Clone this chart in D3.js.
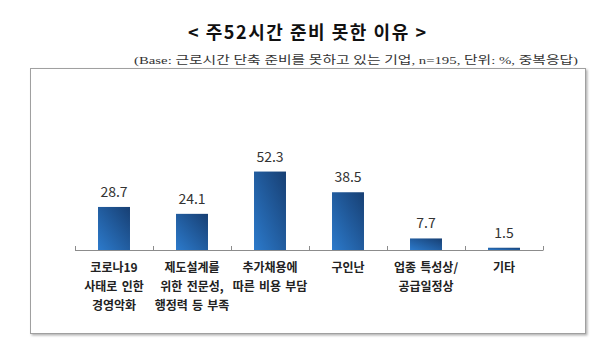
<!DOCTYPE html>
<head>
  <meta charset="utf-8">
  <style>
    body { margin: 0; background: #fff; }
    svg { display: block; }
  </style>
  <script src="https://cdn.jsdelivr.net/npm/d3@7"></script>
</head>
<body>
<svg id=chart width="616" height="354"></svg>
<script>
// data
const categories = [
  ['코로나19', '사태로 인한', '경영악화'],
  ['제도설계를', '위한 전문성,', '행정력 등 부족'],
  ['추가채용에', '따른 비용 부담'],
  ['구인난'],
  ['업종 특성상/', '공급일정상'],
  ['기타']
]
const values = [28.7, 24.1, 52.3, 38.5, 7.7, 1.5]
const title = '< 주52시간 준비 못한 이유 >'
const subtitle = '(Base: 근로시간 단축 준비를 못하고 있는 기업, n=195, 단위: %, 중복응답)'

const svg = d3.select('#chart')
const sans = "'Noto Sans CJK KR', 'Noto Sans', sans-serif"

const defs = svg.append('defs')
const grad = defs.append('linearGradient').attr('id', 'bar')
  .attr('x1', 0).attr('y1', 1).attr('x2', 1).attr('y2', 0)
grad.append('stop').attr('offset', '0%').attr('stop-color', '#2c7acb')
grad.append('stop').attr('offset', '100%').attr('stop-color', '#173f73')
const shadow = defs.append('filter').attr('id', 'shadow')
  .attr('x', '-5%').attr('y', '-5%').attr('width', '110%').attr('height', '110%')
shadow.append('feDropShadow').attr('dx', 1.5).attr('dy', 1.5).attr('stdDeviation', 1)
  .attr('flood-color', '#000').attr('flood-opacity', 0.3)

// title
svg.append('text')
  .attr('x', 307).attr('y', 39)
  .attr('text-anchor', 'middle')
  .attr('font-family', sans).attr('font-weight', 'bold').attr('font-size', 18)
  .attr('fill', '#111')
  .attr('textLength', 238).attr('lengthAdjust', 'spacing')
  .text(title)

svg.append('text')
  .attr('x', 578).attr('y', 64)
  .attr('text-anchor', 'end')
  .attr('font-family', "'Liberation Serif', 'Noto Sans CJK KR', serif")
  .attr('font-size', 11)
  .attr('fill', '#333')
  .attr('textLength', 444).attr('lengthAdjust', 'spacingAndGlyphs')
  .text(subtitle)

// frame
svg.append('rect')
  .attr('x', 30.5).attr('y', 68.5).attr('width', 555).attr('height', 265)
  .attr('fill', '#fff').attr('stroke', '#a0a0a0').attr('stroke-width', 1)
  .attr('filter', 'url(#shadow)')

// scales
const x = d3.scaleBand().domain(d3.range(values.length)).range([75, 543]).paddingInner(0.59).paddingOuter(0.295)
const y = d3.scaleLinear().domain([0, 60]).range([250, 160])

// bars
svg.append('g').selectAll('rect')
  .data(values)
  .join('rect')
  .attr('x', (d, i) => x(i))
  .attr('y', d => y(d))
  .attr('width', x.bandwidth())
  .attr('height', d => y(0) - y(d))
  .attr('fill', 'url(#bar)')

// axis
const axisG = svg.append('g')
axisG.append('line')
  .attr('x1', 75).attr('x2', 543).attr('y1', y(0) + 0.5).attr('y2', y(0) + 0.5)
  .attr('stroke', '#8c8c8c')
const step = (543 - 75) / values.length
axisG.selectAll('line.tick')
  .data(d3.range(values.length + 1))
  .join('line')
  .attr('class', 'tick')
  .attr('x1', i => 75.5 + i * step).attr('x2', i => 75.5 + i * step)
  .attr('y1', y(0) - 4).attr('y2', y(0) + 0.5)
  .attr('stroke', '#8c8c8c')

// value labels
svg.append('g').selectAll('text')
  .data(values)
  .join('text')
  .attr('x', (d, i) => x(i) + x.bandwidth() / 2)
  .attr('y', d => y(d) - 10)
  .attr('text-anchor', 'middle')
  .attr('font-family', sans).attr('font-size', 14)
  .attr('fill', '#333')
  .text(d => d.toFixed(1))

// category labels
svg.append('g').selectAll('text')
  .data(categories)
  .join('text')
  .attr('x', (d, i) => x(i) + x.bandwidth() / 2)
  .attr('y', 272)
  .attr('text-anchor', 'middle')
  .attr('font-family', sans).attr('font-weight', 'bold').attr('font-size', 12)
  .attr('word-spacing', 1.5)
  .attr('fill', '#222')
  .selectAll('tspan')
  .data(d => d)
  .join('tspan')
  .attr('x', function () { return this.parentNode.getAttribute('x') })
  .attr('dy', (d, i) => i === 0 ? 0 : 19)
  .text(d => d)
</script>
</body>
